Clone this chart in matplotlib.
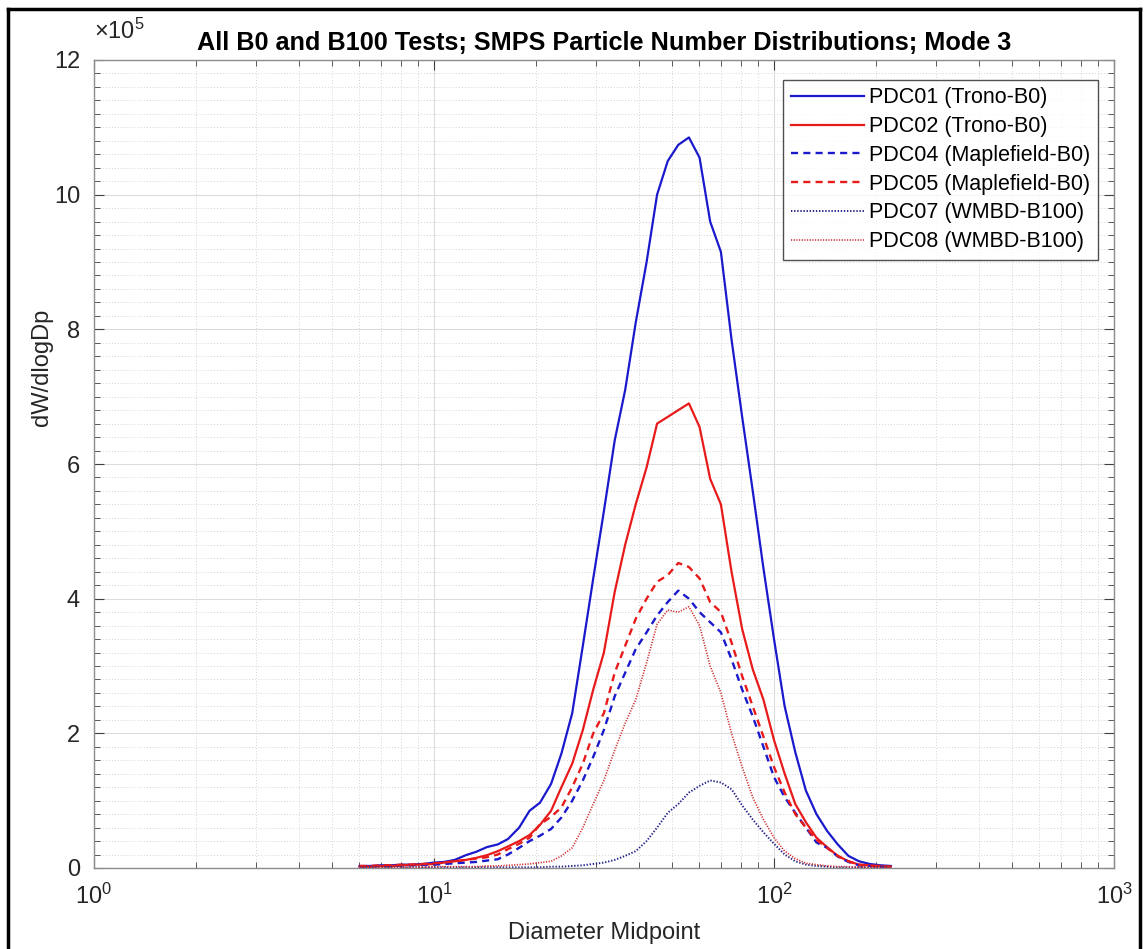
import matplotlib
matplotlib.use("Agg")
import matplotlib.pyplot as plt
from matplotlib.ticker import LogLocator, MultipleLocator, FixedLocator, NullFormatter
from matplotlib.lines import Line2D

plt.rcParams['font.family'] = ['Liberation Sans', 'DejaVu Sans']
plt.rcParams['mathtext.fontset'] = 'custom'
plt.rcParams['mathtext.rm'] = 'Liberation Sans'
plt.rcParams['mathtext.it'] = 'Liberation Sans'
plt.rcParams['mathtext.bf'] = 'Liberation Sans:bold'

# SMPS channel midpoints (nm)
diameter = [6.04, 6.49, 6.98, 7.50, 8.06, 8.66, 9.31, 10.0, 10.7, 11.5,
            12.4, 13.3, 14.3, 15.4, 16.5, 17.8, 19.1, 20.5, 22.1, 23.7,
            25.5, 27.4, 29.4, 31.6, 34.0, 36.5, 39.2, 42.2, 45.3, 48.7,
            52.3, 56.2, 60.4, 64.9, 69.8, 75.0, 80.6, 86.6, 93.1, 100.0,
            107.5, 115.5, 124.1, 133.3, 143.3, 154.0, 165.5, 177.8, 191.1, 205.4,
            220.7]

# dW/dlogDp in units of 1e5
pdc01 = [0.03, 0.03, 0.04, 0.04, 0.05, 0.05, 0.06, 0.08, 0.09, 0.12,
         0.19, 0.24, 0.31, 0.35, 0.43, 0.60, 0.85, 0.97, 1.25, 1.70,
         2.30, 3.30, 4.30, 5.30, 6.35, 7.10, 8.10, 9.00, 10.0, 10.5,
         10.74, 10.85, 10.55, 9.60, 9.15, 7.85, 6.70, 5.60, 4.45, 3.40,
         2.40, 1.72, 1.15, 0.80, 0.55, 0.35, 0.18, 0.10, 0.06, 0.04,
         0.03]
pdc02 = [0.02, 0.02, 0.03, 0.03, 0.04, 0.05, 0.05, 0.06, 0.08, 0.10,
         0.12, 0.15, 0.19, 0.25, 0.32, 0.40, 0.49, 0.64, 0.85, 1.20,
         1.55, 2.05, 2.65, 3.20, 4.10, 4.80, 5.40, 5.95, 6.60, 6.70,
         6.80, 6.90, 6.55, 5.78, 5.40, 4.40, 3.55, 2.95, 2.50, 1.90,
         1.40, 0.95, 0.68, 0.45, 0.31, 0.18, 0.10, 0.05, 0.04, 0.03,
         0.02]
pdc04 = [0.02, 0.02, 0.03, 0.03, 0.04, 0.04, 0.05, 0.05, 0.06, 0.07,
         0.08, 0.09, 0.11, 0.13, 0.20, 0.30, 0.40, 0.48, 0.58, 0.75,
         1.00, 1.30, 1.65, 2.05, 2.55, 2.90, 3.25, 3.50, 3.75, 3.95,
         4.12, 4.00, 3.80, 3.65, 3.50, 3.10, 2.65, 2.25, 1.80, 1.35,
         1.05, 0.82, 0.60, 0.38, 0.30, 0.17, 0.09, 0.04, 0.03, 0.02,
         0.02]
pdc05 = [0.03, 0.03, 0.04, 0.04, 0.05, 0.05, 0.06, 0.07, 0.08, 0.10,
         0.12, 0.14, 0.16, 0.20, 0.28, 0.36, 0.45, 0.65, 0.76, 0.90,
         1.20, 1.55, 2.00, 2.30, 2.90, 3.30, 3.70, 4.00, 4.25, 4.35,
         4.53, 4.47, 4.30, 3.95, 3.80, 3.35, 2.85, 2.40, 1.95, 1.50,
         1.12, 0.80, 0.60, 0.42, 0.30, 0.18, 0.10, 0.05, 0.03, 0.02,
         0.02]
pdc07 = [0.01, 0.01, 0.01, 0.01, 0.01, 0.01, 0.01, 0.01, 0.01, 0.01,
         0.01, 0.01, 0.01, 0.01, 0.01, 0.01, 0.01, 0.01, 0.02, 0.02,
         0.03, 0.04, 0.06, 0.08, 0.12, 0.18, 0.25, 0.40, 0.60, 0.82,
         0.95, 1.12, 1.22, 1.30, 1.27, 1.17, 0.93, 0.72, 0.53, 0.36,
         0.20, 0.10, 0.05, 0.03, 0.02, 0.01, 0.01, 0.01, 0.01, 0.01,
         0.01]
pdc08 = [0.01, 0.01, 0.01, 0.01, 0.01, 0.01, 0.01, 0.02, 0.02, 0.02,
         0.02, 0.02, 0.03, 0.03, 0.04, 0.05, 0.06, 0.08, 0.10, 0.18,
         0.30, 0.60, 0.95, 1.30, 1.75, 2.15, 2.50, 3.05, 3.62, 3.83,
         3.80, 3.88, 3.60, 3.00, 2.60, 2.00, 1.50, 1.05, 0.72, 0.45,
         0.25, 0.14, 0.07, 0.05, 0.03, 0.02, 0.02, 0.01, 0.01, 0.01,
         0.01]

labels = ['PDC01 (Trono-B0)', 'PDC02 (Trono-B0)', 'PDC04 (Maplefield-B0)',
          'PDC05 (Maplefield-B0)', 'PDC07 (WMBD-B100)', 'PDC08 (WMBD-B100)']
series = [pdc01, pdc02, pdc04, pdc05, pdc07, pdc08]
colors = ['#1a1acc', '#e81a1a', '#1a1acc', '#e81a1a', '#22228a', '#d02a2a']
styles = ['-', '-', (0, (3.0, 2.2)), (0, (3.0, 2.2)), (0, (0.7, 0.9)), (0, (0.7, 0.9))]
widths = [1.6, 1.6, 1.7, 1.7, 1.4, 1.2]

W, H = 1146, 949
fig = plt.figure(figsize=(W / 100, H / 100), dpi=100)
ax = fig.add_axes([94 / W, 1 - 868 / H, (1114 - 94) / W, (868 - 60) / H])

for y, c, ls, lw, lab in zip(series, colors, styles, widths, labels):
    ax.plot(diameter, y, color=c, linestyle=ls, linewidth=lw, label=lab)

ax.set_xscale('log')
ax.set_xlim(1, 1000)
ax.set_ylim(0, 12)

ax.xaxis.set_major_locator(FixedLocator([1, 10, 100, 1000]))
ax.xaxis.set_minor_locator(LogLocator(base=10, subs=range(2, 10)))
ax.xaxis.set_minor_formatter(NullFormatter())
ax.set_xticklabels(['$10^0$', '$10^1$', '$10^2$', '$10^3$'])
ax.yaxis.set_major_locator(MultipleLocator(2))
ax.yaxis.set_minor_locator(MultipleLocator(0.2))

axis_gray = '#8c8c8c'
for s in ax.spines.values():
    s.set_color(axis_gray)
    s.set_linewidth(1.0)
ax.tick_params(which='both', direction='in', top=True, right=True,
               color='#404040', labelcolor='#262626', labelsize=17)
ax.tick_params(axis='y', pad=10)
ax.tick_params(axis='x', pad=11)
ax.tick_params(which='major', length=7, width=0.8)
ax.tick_params(which='minor', length=4, width=0.6)

ax.grid(which='major', color='#dcdcdc', linewidth=0.8, linestyle='-')
ax.grid(which='minor', color='#d4d4d4', linewidth=0.7, linestyle=(0, (1, 2)))
ax.set_axisbelow(True)

ax.set_title('All B0 and B100 Tests; SMPS Particle Number Distributions; Mode 3',
             fontsize=18.2, fontweight='bold', pad=7)
ax.set_xlabel('Diameter Midpoint', fontsize=17, color='#262626', labelpad=10)
ax.set_ylabel('dW/dlogDp', fontsize=17, color='#262626')
ax.yaxis.set_label_coords(-0.040, 0.62)
ax.text(0.0, 1.02, r'$\times10^5$', transform=ax.transAxes, fontsize=17,
        color='#262626', ha='left', va='bottom')

leg = ax.legend(loc='upper right', bbox_to_anchor=(0.9845, 0.9755), fontsize=15.5,
                frameon=True, fancybox=False, edgecolor='#262626',
                handlelength=3.4, handletextpad=0.25, borderpad=0.35,
                labelspacing=0.36, borderaxespad=0)
leg.get_frame().set_linewidth(1.0)

# figure frame
for xs, ys in [([8 / W, 8 / W], [0, 1 - 9 / H]),
               ([8 / W, 1140 / W], [1 - 9 / H, 1 - 9 / H]),
               ([1140 / W, 1140 / W], [1 - 9 / H, 0])]:
    fig.add_artist(Line2D(xs, ys, color='black', linewidth=2.5, transform=fig.transFigure))

fig.savefig('out.png', dpi=100)
